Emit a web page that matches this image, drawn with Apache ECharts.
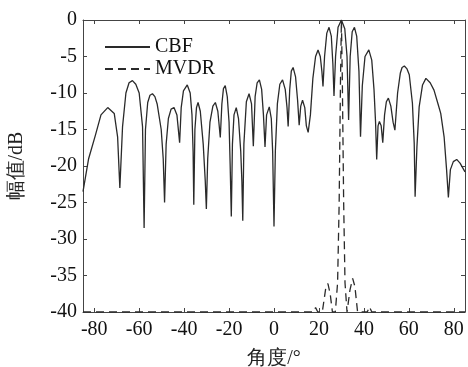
<!DOCTYPE html>
<html><head><meta charset="utf-8">
<script src="https://cdn.jsdelivr.net/npm/echarts@6/dist/echarts.min.js"></script>
<style>html,body{margin:0;padding:0;background:#fff}#c{width:468px;height:367px}</style>
</head><body><div id="c"></div>
<script>
const xTicks = [-80,-60,-40,-20,0,20,40,60,80];
const cbfAngle = [-85,-82.5,-79.5,-77,-74,-71.1,-69.6,-68.6,-67.4,-65.9,-64.5,-63,-61.5,-60,-58.5,-57.8,-57.2,-56.2,-55.2,-54.1,-53,-52,-50.2,-49.3,-48.7,-48,-47,-45.8,-44.5,-43.2,-42,-41.3,-40.3,-38.6,-37.3,-36.5,-36,-35.7,-35.2,-34.5,-33.8,-32.8,-31.5,-30.6,-30.1,-29.5,-28.5,-27.2,-26.1,-25,-23.9,-23.2,-22.5,-21.7,-20.8,-20,-19.5,-19,-18.5,-17.8,-16.8,-15.8,-14.8,-14.3,-13.9,-13.4,-12.3,-11.1,-10,-9.2,-8.4,-7.5,-6.5,-5.5,-4.7,-4,-3.3,-2.1,-1.2,-0.6,0,0.6,1.5,2.6,3.8,5,5.8,6.3,7,7.7,8.5,9.6,10.5,11.2,11.9,12.7,13.7,14.4,15.2,16.2,17.3,18.5,19.6,20.6,21.3,21.8,22.5,23.5,24.5,25.5,26.2,26.7,27.4,28.5,30,31.5,32.5,33.2,33.9,34.8,35.8,36.8,37.8,38.5,39.3,40.5,42.2,43.5,44.5,45.2,45.7,46.3,46.9,47.7,48.4,49.2,50,50.9,52,53,53.8,55,56.2,57,58,59.2,60.2,61.6,62.4,62.8,63.6,64.6,66.1,67.6,69.5,71.2,73,74.2,75.7,76.8,77.6,78.5,79.8,81.3,82.8,85];
const cbfDb = [-23.5,-19,-15.8,-13,-12,-12.8,-16,-23,-14.6,-10,-8.6,-8.3,-8.8,-10,-14.6,-28.5,-15,-11.3,-10.3,-10.1,-10.5,-11.5,-15,-19,-25,-17,-13.5,-12.2,-12,-13,-16.8,-12,-9.7,-8.9,-10,-13,-18,-25.3,-15,-12,-11.3,-12.5,-17,-22,-25.9,-19,-14,-11.8,-11.3,-12.5,-16.1,-11.5,-9.4,-9,-10.5,-14,-20,-26.9,-17,-13,-12,-13.5,-18,-22,-27.5,-17,-11.2,-10.1,-11.5,-17.3,-10.5,-8.6,-8.2,-9.5,-13,-17.4,-13,-11.9,-13.5,-18,-28.3,-18,-11.5,-8.8,-8.2,-9.5,-12,-14.6,-9.5,-7,-6.5,-7.8,-11,-14.4,-11.8,-11,-12,-14.5,-15.4,-13,-8,-5,-4.1,-5,-7,-9.1,-5,-1.8,-1,-2.2,-6,-10.4,-5,-1,0,-1.2,-5,-13.7,-5,-1.6,-1,-2.2,-7,-16,-9,-5,-4.1,-5.5,-9.5,-14,-19.1,-14.5,-13.9,-14.5,-16.8,-13,-11.2,-10.7,-11.8,-14,-15.1,-10,-7.3,-6.5,-6.3,-6.7,-7.5,-11.4,-16.9,-24.2,-17.4,-11.9,-8.9,-8,-8.6,-9.6,-11.5,-12.8,-16,-20.5,-24.3,-20.5,-19.4,-19.1,-19.6,-20.8];
const mvdrAngle = [-85,-60,-30,0,17.5,18.5,19.5,21.5,23,24,25,26,27.3,28.3,29,29.6,30,30.4,31,31.6,32.5,33.8,35,36,37.2,41.5,42.5,43.5,60,85];
const mvdrDb = [-40,-40,-40,-40,-40,-39.4,-40,-40,-36.8,-36.1,-37.5,-40,-40,-36,-25,-8,0,-8,-25,-36,-40,-37,-35.4,-36.5,-40,-40,-39.3,-40,-40,-40];

const font = 'Liberation Serif, Times New Roman, serif';
const axisCol = '#444';
const zip = (a,b) => a.map((v,i)=>[v,b[i]]);
const chart = echarts.init(document.getElementById('c'));
const baseX = {type:'value', min:-85, max:85,
  axisLine:{show:true, onZero:false, lineStyle:{color:axisCol,width:1}},
  axisTick:{show:true, inside:true, length:4, customValues:xTicks, lineStyle:{color:axisCol}},
  splitLine:{show:false}};
const baseY = {type:'value', min:-40, max:0, interval:5,
  axisLine:{show:true, onZero:false, lineStyle:{color:axisCol,width:1}},
  axisTick:{show:true, inside:true, length:4, lineStyle:{color:axisCol}},
  splitLine:{show:false}};
chart.setOption({
  animation:false,
  backgroundColor:'#fff',
  grid:{left:83, right:3, top:20, bottom:55, containLabel:false, outerBoundsMode:'none'},
  legend:{orient:'vertical', left:99, top:32, itemWidth:45, itemHeight:2, itemGap:2,
    itemStyle:{color:'rgba(0,0,0,0)', borderWidth:0},
    textStyle:{fontFamily:font, fontSize:20, color:'#111'},
    data:['CBF','MVDR']},
  xAxis:[
    Object.assign({}, baseX, {position:'bottom',
      name:'角度/°', nameLocation:'middle', nameGap:37,
      nameTextStyle:{fontFamily:font, fontSize:20, color:'#222'},
      axisLabel:{show:true, customValues:xTicks, margin:8, fontFamily:font, fontSize:20, color:'#111'}}),
    Object.assign({}, baseX, {position:'top', axisLabel:{show:false}})
  ],
  yAxis:[
    Object.assign({}, baseY, {position:'left',
      name:'幅值/dB', nameLocation:'middle', nameGap:56,
      nameTextStyle:{fontFamily:font, fontSize:20, color:'#222'},
      axisLabel:{show:true, margin:6, fontFamily:font, fontSize:20, color:'#111'}}),
    Object.assign({}, baseY, {position:'right', axisLabel:{show:false}})
  ],
  series:[
    {name:'CBF', type:'line', data:zip(cbfAngle,cbfDb), symbol:'none', smooth:false,
      lineStyle:{color:'#2a2a2a', width:1.3}, itemStyle:{color:'#2a2a2a'}},
    {name:'MVDR', type:'line', data:zip(mvdrAngle,mvdrDb), symbol:'none', smooth:false,
      lineStyle:{color:'#2a2a2a', width:1.3, type:[8,5]}, itemStyle:{color:'#2a2a2a'}}
  ]
});
</script></body></html>
